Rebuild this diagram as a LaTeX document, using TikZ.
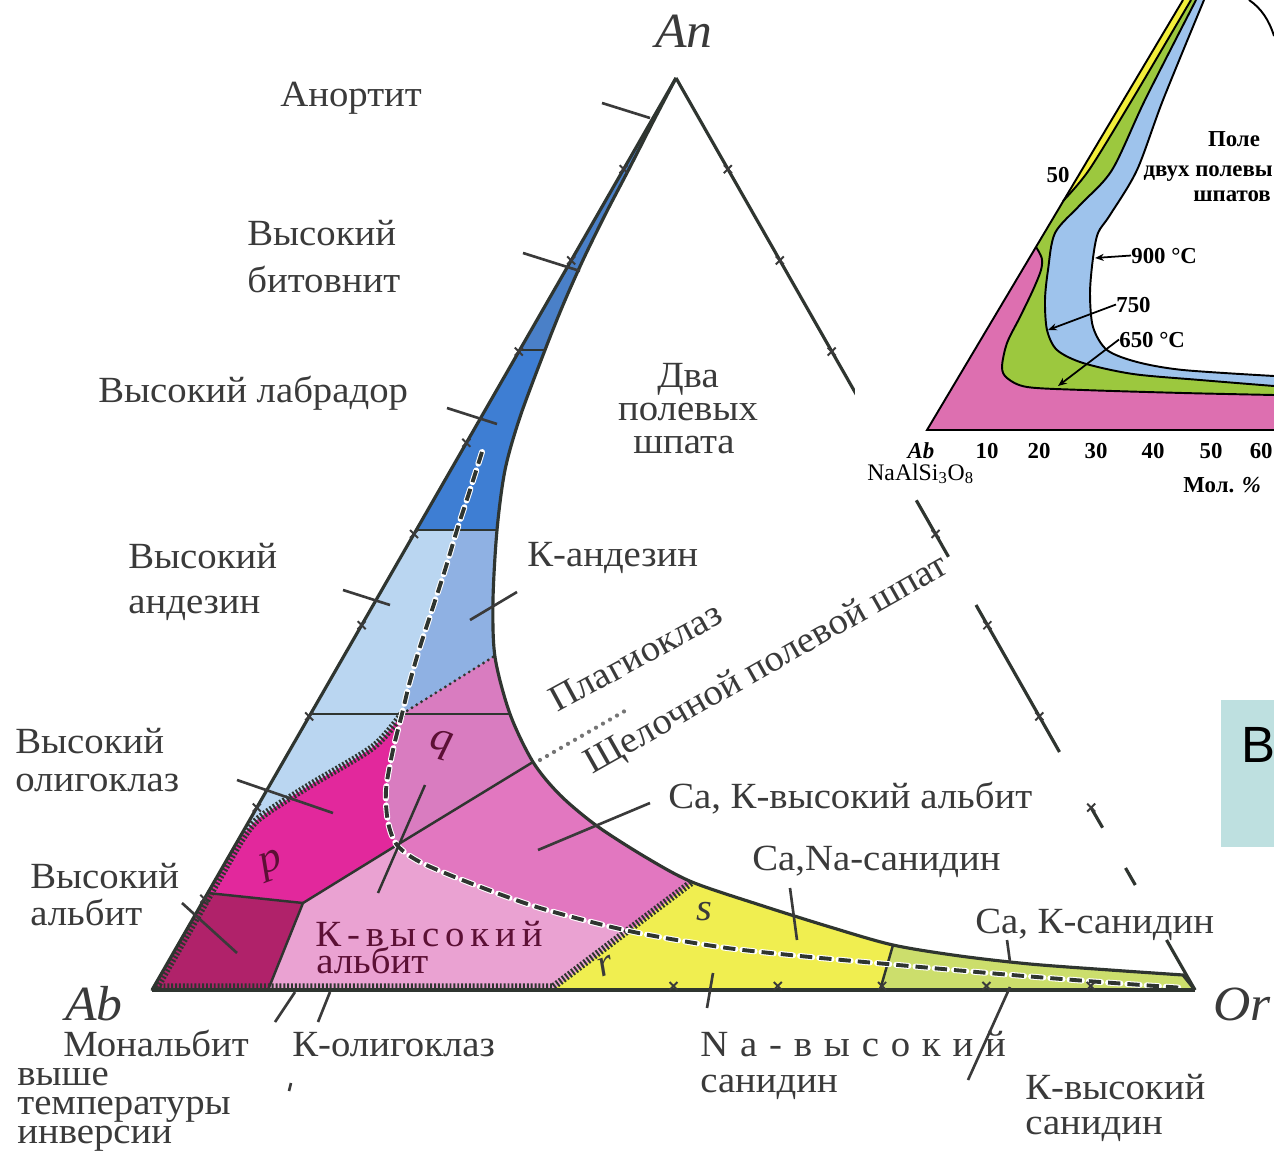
\documentclass[tikz,border=0pt]{standalone}
\usepackage{fontspec}
\setmainfont{Liberation Serif}
\newfontfamily\lab[FakeStretch=1.05]{Liberation Serif}
\newfontfamily\sansB{Liberation Sans}
\usetikzlibrary{arrows.meta}
\definecolor{ink}{HTML}{3A3A3A}
\definecolor{edgec}{HTML}{2F3530}
\definecolor{blueA}{HTML}{4A80C8}
\definecolor{blueB}{HTML}{3E7ED3}
\definecolor{lblue}{HTML}{BAD6F1}
\definecolor{mblue}{HTML}{8FB1E3}
\definecolor{qpink}{HTML}{D97CC0}
\definecolor{magp}{HTML}{E2289C}
\definecolor{darkm}{HTML}{B0226A}
\definecolor{ckpink}{HTML}{E277C0}
\definecolor{kpink}{HTML}{EAA2D2}
\definecolor{yel}{HTML}{F0EE50}
\definecolor{grn}{HTML}{CCDE6C}
\definecolor{maroon}{HTML}{5C1035}
\definecolor{ipink}{HTML}{DD6FB0}
\definecolor{igreen}{HTML}{9CC83E}
\definecolor{iblue}{HTML}{9EC3EC}
\definecolor{iyel}{HTML}{F2EE3A}
\definecolor{tealbox}{HTML}{BEE0E0}
\begin{document}
\begin{tikzpicture}[x=0.02cm,y=-0.02cm,
  lbl/.style={font=\lab\fontsize{21}{25}\selectfont,text=ink,inner sep=0pt},
  ital/.style={font=\lab\itshape\fontsize{28}{30}\selectfont,text=ink,inner sep=0pt},
  ilbl/.style={font=\bfseries\fontsize{13}{15}\selectfont,text=black,inner sep=0pt},
  bnd/.style={draw=edgec,line width=1.4pt},
  outl/.style={draw=edgec,line width=1.8pt},
  lead/.style={draw=ink,line width=1.5pt},
  hatchb/.style={draw=edgec,line width=4.2pt,dash pattern=on 1.1pt off 1.1pt},
  dashw/.style={draw=white,line width=3.4pt,dash pattern=on 7pt off 4pt,line cap=round},
  dashk/.style={draw=edgec,line width=2.2pt,dash pattern=on 7pt off 4pt},
  idot/.style={draw=edgec,line width=1.8pt,dash pattern=on 0pt off 3.2pt,line cap=round},
  odot/.style={draw=ink!70,line width=2.4pt,dash pattern=on 0pt off 4.6pt,line cap=round},
  iline/.style={draw=black,line width=1.1pt},
  iarr/.style={draw=black,line width=1pt,-{Stealth[length=5pt,width=4pt]}},
  xmk/.pic={\draw[line width=1.1pt,draw=ink] (-4,-4) -- (4,4) (-4,4) -- (4,-4);}
]
\useasboundingbox (0,0) rectangle (1274,1152);
\fill[white] (0,0) rectangle (1274,1152);

% key points
\coordinate (An) at (676,78);
\coordinate (Ab) at (152,990);
\coordinate (Or) at (1195,990);
\coordinate (L3) at (519.7,350);
\coordinate (C3) at (545,350);
\coordinate (L5) at (416.3,530);
\coordinate (C5) at (497,530);
\coordinate (L7) at (310.6,714);
\coordinate (C7) at (510,714);
\coordinate (D7) at (402,714);
\coordinate (Cdot) at (493,657);
\coordinate (X) at (397,845);
\coordinate (Q1) at (303,903);
\coordinate (Ld) at (207.7,893);
\coordinate (Q2) at (268,990);
\coordinate (Cs) at (533,762);
\coordinate (Ch) at (692,882);
\coordinate (Hb) at (553,990);
\coordinate (Cg) at (893,945);
\coordinate (Gb) at (880,990);

% ---------- coloured fields ----------
\begin{scope}
\clip (152,990) -- plot[smooth] coordinates {(676,78) (654,120) (629,169) (605,215) (583,260) (563,305) (545,350) (520,417) (505,470) (497,530) (493,600) (495,657) (510,714) (533,762) (560,795) (597,826) (647,858) (692,882) (760,905) (830,927) (893,945) (960,956) (1030,964) (1110,970) (1183,975)} -- (1195,990) -- cycle;
\fill[kpink] (0,0) rectangle (1274,1152);
\fill[blueA] (0,0) rectangle (1274,350);
\fill[blueB] (0,350) rectangle (1274,530);
\fill[lblue] (0,530) rectangle (1274,714);
\fill[mblue] (457,530) -- plot[smooth] coordinates {(457,530) (445,570) (432,610) (419,650) (409,685) (402,714)} -- (539,628) -- (539,530) -- cycle;
\fill[qpink] (402,714) -- (539,628) -- (560,714) -- cycle;
\fill[lblue] (250,714) -- (402,714) -- plot[smooth] coordinates {(402,714) (373,747) (307,787) (257,820) (232,850)} -- (180,850) -- cycle;
\fill[magp] (402,714) -- plot[smooth] coordinates {(402,714) (393,750) (386,790) (388,822) (397,845)} -- (303,903) -- (190,891) -- (180,850) -- plot[smooth] coordinates {(232,850) (257,820) (307,787) (373,747) (402,714)} -- cycle;
\fill[darkm] (190,891) -- (303,903) -- (268,990) -- (140,1000) -- (140,891) -- cycle;
\fill[qpink] (402,714) -- (560,714) -- (574,738) -- (397,845) -- plot[smooth] coordinates {(397,845) (388,822) (386,790) (393,750) (402,714)} -- cycle;
\fill[ckpink] (397,845) -- (574,738) -- (760,800) -- (734,850) -- (629,931) -- plot[smooth] coordinates {(629,931) (540,908) (470,883) (420,862) (397,845)} -- cycle;
\fill[yel] (540,1000) -- (734,850) -- (909,890) -- (876,1004) -- cycle;
\fill[grn] (909,890) -- (1300,890) -- (1300,1004) -- (876,1004) -- cycle;
\end{scope}

% ---------- boundaries ----------
\draw[bnd] (L3) -- (C3);
\draw[bnd] (L5) -- (C5);
\draw[bnd] (L7) -- (C7);
\draw[bnd] (Q1) -- (X) -- (Cs);
\draw[bnd] (Ld) -- (Q1) -- (Q2);
\draw[bnd] (Cg) -- (Gb);
\draw[idot] (Cdot) -- (D7);
\draw[hatchb] plot[smooth] coordinates {(402,714) (373,747) (307,787) (257,820) (234.6,851.5)} -- (157,987) -- (553,987) -- (Ch);
\draw[dashw] plot[smooth] coordinates {(482,452) (470,490) (457,530) (445,570) (432,610) (419,650) (409,685) (402,714) (393,750) (386,790) (388,822) (397,845) (420,862) (470,883) (540,908) (629,931) (720,947) (800,956) (887,964) (1000,974) (1100,982) (1185,988)};
\draw[dashk] plot[smooth] coordinates {(482,452) (470,490) (457,530) (445,570) (432,610) (419,650) (409,685) (402,714) (393,750) (386,790) (388,822) (397,845) (420,862) (470,883) (540,908) (629,931) (720,947) (800,956) (887,964) (1000,974) (1100,982) (1185,988)};

% outline
\draw[outl] (Ab) -- (An);
\draw[outl] (Ab) -- (Or);
\draw[outl] plot[smooth] coordinates {(676,78) (654,120) (629,169) (605,215) (583,260) (563,305) (545,350) (520,417) (505,470) (497,530) (493,600) (495,657) (510,714) (533,762) (560,795) (597,826) (647,858) (692,882) (760,905) (830,927) (893,945) (960,956) (1030,964) (1110,970) (1183,975)} -- (Or);

% right edge An--Or (broken in the print)
\coordinate (E1) at (868,415);
\coordinate (E2a) at (916.3,500.3); \coordinate (E2b) at (948.5,556.8);
\coordinate (E3a) at (976,605); \coordinate (E3b) at (1059.5,752);
\coordinate (E4a) at (1091,807.6); \coordinate (E4b) at (1102.6,827.7);
\coordinate (E5a) at (1125.5,868); \coordinate (E5b) at (1135.3,885);
\coordinate (E6a) at (1166.5,940);
\draw[outl] (An) -- (E1);
\draw[outl] (E2a) -- (E2b);
\draw[outl] (E3a) -- (E3b);
\draw[outl] (E4a) -- (E4b);
\draw[outl] (E5a) -- (E5b);
\draw[outl] (E6a) -- (Or);

% ticks every 10 %
\foreach \k in {1,...,9} {\pic at ({676-52.4*\k},{78+91.2*\k}) {xmk};}
\foreach \k in {1,2,3,5,6,7,8} {\pic at ({676+51.9*\k},{78+91.2*\k}) {xmk};}
\foreach \k in {5,...,9} {\pic at ({152+104.3*\k},986) {xmk};}

% dotted divider between the two labels
\coordinate (dv1) at (540,760); \coordinate (dv2) at (630,708);
\draw[odot] (dv1) -- (dv2);

% leader lines
\coordinate (a1) at (602,103); \coordinate (a2) at (650,118);
\draw[lead] (a1) -- (a2);
\coordinate (b1) at (523,253); \coordinate (b2) at (580,271);
\draw[lead] (b1) -- (b2);
\coordinate (c1) at (447,408); \coordinate (c2) at (497,424);
\draw[lead] (c1) -- (c2);
\coordinate (d1) at (343,590); \coordinate (d2) at (390,605);
\draw[lead] (d1) -- (d2);
\coordinate (e1) at (517,592); \coordinate (e2) at (470,620);
\draw[lead] (e1) -- (e2);
\coordinate (f1) at (237,780); \coordinate (f2) at (333,813);
\draw[lead] (f1) -- (f2);
\coordinate (g1) at (182,903); \coordinate (g2) at (237,953);
\draw[lead] (g1) -- (g2);
\coordinate (h1) at (275,1022); \coordinate (h2) at (295,992);
\draw[lead] (h1) -- (h2);
\coordinate (i1) at (318,1022); \coordinate (i2) at (330,992);
\draw[lead] (i1) -- (i2);
\coordinate (j1) at (291,1083); \coordinate (j2) at (289,1091);
\draw[lead] (j1) -- (j2);
\coordinate (k1) at (650,803); \coordinate (k2) at (538,850);
\draw[lead] (k1) -- (k2);
\coordinate (m1) at (790,888); \coordinate (m2) at (797,940);
\draw[lead] (m1) -- (m2);
\coordinate (n1) at (713,973); \coordinate (n2) at (707,1008);
\draw[lead] (n1) -- (n2);
\coordinate (o1) at (1007,940); \coordinate (o2) at (1010,962);
\draw[lead] (o1) -- (o2);
\coordinate (p1) at (968,1080); \coordinate (p2) at (1010,987);
\draw[lead] (p1) -- (p2);
\coordinate (x1) at (425,785); \coordinate (x2) at (378,893);
\draw[bnd] (x1) -- (x2);

% ---------- labels ----------
\node[ital,anchor=base west] (tAn) at (655,48) {An};
\node[ital,anchor=base west] (tAb) at (65,1020) {Ab};
\node[ital,anchor=base west] (tOr) at (1213,1020) {Or};
\node[lbl,anchor=base west] (tA1) at (280,107) {Анортит};
\node[lbl,anchor=base west] (tB1) at (247,245) {Высокий};
\node[lbl,anchor=base west] (tB2) at (247,292) {битовнит};
\node[lbl,anchor=base west] (tL1) at (98,402) {Высокий лабрадор};
\node[lbl,anchor=base west] (tD1) at (128,568) {Высокий};
\node[lbl,anchor=base west] (tD2) at (128,613) {андезин};
\node[lbl,anchor=base] (tT1) at (688,387) {Два};
\node[lbl,anchor=base] (tT2) at (688,420) {полевых};
\node[lbl,anchor=base] (tT3) at (684,453) {шпата};
\node[lbl,anchor=base west] (tKa) at (527,566) {К-андезин};
\node[lbl,anchor=base west] (tO1) at (15,753) {Высокий};
\node[lbl,anchor=base west] (tO2) at (15,791) {олигоклаз};
\node[lbl,anchor=base west] (tH1) at (30,888) {Высокий};
\node[lbl,anchor=base west] (tH2) at (30,925) {альбит};
\node[lbl,anchor=base west] (tM1) at (63,1056) {Мональбит};
\node[lbl,anchor=base west] (tM2) at (17,1085) {выше};
\node[lbl,anchor=base west] (tM3) at (17,1114) {температуры};
\node[lbl,anchor=base west] (tM4) at (17,1143) {инверсии};
\node[lbl,anchor=base west] (tKo) at (292,1056) {К-олигоклаз};
\node[lbl,anchor=base west,font=\lab\addfontfeature{LetterSpace=32}\fontsize{21}{25}\selectfont] (tN1) at (700,1056) {Na-высокий};
\node[lbl,anchor=base west] (tN2) at (700,1092) {санидин};
\node[lbl,anchor=base west] (tS1) at (1025,1099) {К-высокий};
\node[lbl,anchor=base west] (tS2) at (1025,1134) {санидин};
\node[lbl,anchor=base west] (tCK) at (975,933) {Ca, К-санидин};
\node[lbl,anchor=base west] (tCN) at (752,870) {Ca,Na-санидин};
\node[lbl,anchor=base west] (tCA) at (668,808) {Ca, К-высокий альбит};
\node[lbl,anchor=base west,rotate=28.5] (tPl) at (557,713) {Плагиоклаз};
\node[lbl,anchor=base west,rotate=29.5] (tSh) at (592,775) {Щелочной полевой шпат};
\node[lbl,anchor=base west,text=maroon,font=\lab\addfontfeature{LetterSpace=16}\fontsize{21}{25}\selectfont] (tKh1) at (315,946) {К-высокий};
\node[lbl,anchor=base west,text=maroon] (tKh2) at (316,973) {альбит};
\node[lbl,text=maroon,font=\lab\itshape\fontsize{24}{26}\selectfont,rotate=20] (tp) at (272,866) {p};
\node[lbl,text=maroon,font=\lab\itshape\fontsize{24}{26}\selectfont,rotate=-15] (tq) at (441,745) {q};
\node[lbl,font=\lab\itshape\fontsize{22}{24}\selectfont,rotate=20] (tr) at (606,966) {r};
\node[lbl,font=\lab\itshape\fontsize{22}{24}\selectfont] (ts) at (704,912) {s};

% ---------- inset ----------
\fill[white] (855,0) rectangle (1274,495);
\begin{scope}
\clip (855,0) rectangle (1274,495);
\fill[ipink] (927,430) -- (1036,247) -- plot[smooth] coordinates {(1036,247) (1041.7,258) (1041,270) (1033,290) (1020,317) (1007,343) (1002,367) (1007,378) (1027,387) (1083,390) (1183,393) (1274,395)} -- (1274,430) -- cycle;
\fill[igreen] (1191,0) -- plot[smooth] coordinates {(1191,0) (1132,100) (1089,170) (1063,201)} -- (1036,247) -- plot[smooth] coordinates {(1036,247) (1041.7,258) (1041,270) (1033,290) (1020,317) (1007,343) (1002,367) (1007,378) (1027,387) (1083,390) (1183,393) (1274,395)} -- (1274,386) -- plot[smooth] coordinates {(1274,386) (1200,380) (1133,374) (1083,363) (1057,350) (1047,330) (1045,300) (1048,270) (1055,233) (1080,205) (1112,170) (1145,100) (1196,0)} -- cycle;
\fill[iblue] (1196,0) -- plot[smooth] coordinates {(1196,0) (1145,100) (1112,170) (1080,205) (1055,233) (1048,270) (1045,300) (1047,330) (1057,350) (1083,363) (1133,374) (1200,380) (1274,386)} -- (1274,376) -- plot[smooth] coordinates {(1274,376) (1183,370) (1137,362) (1107,350) (1093,327) (1090,293) (1093,258) (1098,233) (1110,215) (1137,170) (1163,100) (1204,0)} -- cycle;
\fill[iyel] (1183,0) -- (1063,201) -- plot[smooth] coordinates {(1063,201) (1089,170) (1132,100) (1191,0)} -- cycle;
\draw[iline] plot[smooth] coordinates {(1036,247) (1041.7,258) (1041,270) (1033,290) (1020,317) (1007,343) (1002,367) (1007,378) (1027,387) (1083,390) (1183,393) (1274,395)};
\draw[iline] plot[smooth] coordinates {(1196,0) (1145,100) (1112,170) (1080,205) (1055,233) (1048,270) (1045,300) (1047,330) (1057,350) (1083,363) (1133,374) (1200,380) (1274,386)};
\draw[iline] plot[smooth] coordinates {(1204,0) (1163,100) (1137,170) (1110,215) (1098,233) (1093,258) (1090,293) (1093,327) (1107,350) (1137,362) (1183,370) (1274,376)};
\draw[iline] plot[smooth] coordinates {(1191,0) (1132,100) (1089,170) (1063,201)};
\coordinate (iA) at (927,430); \coordinate (iT) at (1183,0); \coordinate (iR) at (1274,430);
\draw[iline] (iT) -- (iA) -- (iR);
\coordinate (iC1) at (1249,0); \coordinate (iC2) at (1274,36);
\draw[iline] (iC1) .. controls (1261,8) and (1269,20) .. (iC2);
\end{scope}
\node[ilbl,anchor=base] (iP1) at (1234,147) {Поле};
\node[ilbl,anchor=base east] (iP2) at (1273,177) {двух полевы};
\node[ilbl,anchor=base] (iP3) at (1232,202) {шпатов};
\node[ilbl,anchor=base] (i50) at (1058,183) {50};
\node[ilbl,anchor=base west] (i900) at (1131,263) {900 °C};
\node[ilbl,anchor=base west] (i750) at (1116,312) {750};
\node[ilbl,anchor=base west] (i650) at (1119,347) {650 °C};
\coordinate (r900) at (1095,258); \coordinate (r750) at (1048,330); \coordinate (r650) at (1058,386);
\draw[iarr] (i900.west) -- (r900);
\draw[iarr] (i750.west) -- (r750);
\draw[iarr] (i650.west) -- (r650);
\node[ilbl,anchor=base,font=\bfseries\itshape\fontsize{13}{15}\selectfont] (iAb) at (921,458) {Ab};
\node[ilbl,anchor=base] (i10) at (987,458) {10};
\node[ilbl,anchor=base] (i20) at (1039,458) {20};
\node[ilbl,anchor=base] (i30) at (1096,458) {30};
\node[ilbl,anchor=base] (i40) at (1153,458) {40};
\node[ilbl,anchor=base] (i50b) at (1211,458) {50};
\node[ilbl,anchor=base east] (i60) at (1273,458) {60};
\node[ilbl,anchor=base west,font=\fontsize{13.5}{15}\selectfont] (iNa) at (867,480) {NaAlSi\textsubscript{3}O\textsubscript{8}};
\node[ilbl,anchor=base west] (iMol) at (1183,492) {Мол. \textit{\%}};

% teal box
\fill[tealbox] (1221,700) rectangle (1274,847);
\node[anchor=base west,inner sep=0pt,font=\sansB\fontsize{29}{29}\selectfont] (tBx) at (1241,762) {В};
\end{tikzpicture}
\end{document}
